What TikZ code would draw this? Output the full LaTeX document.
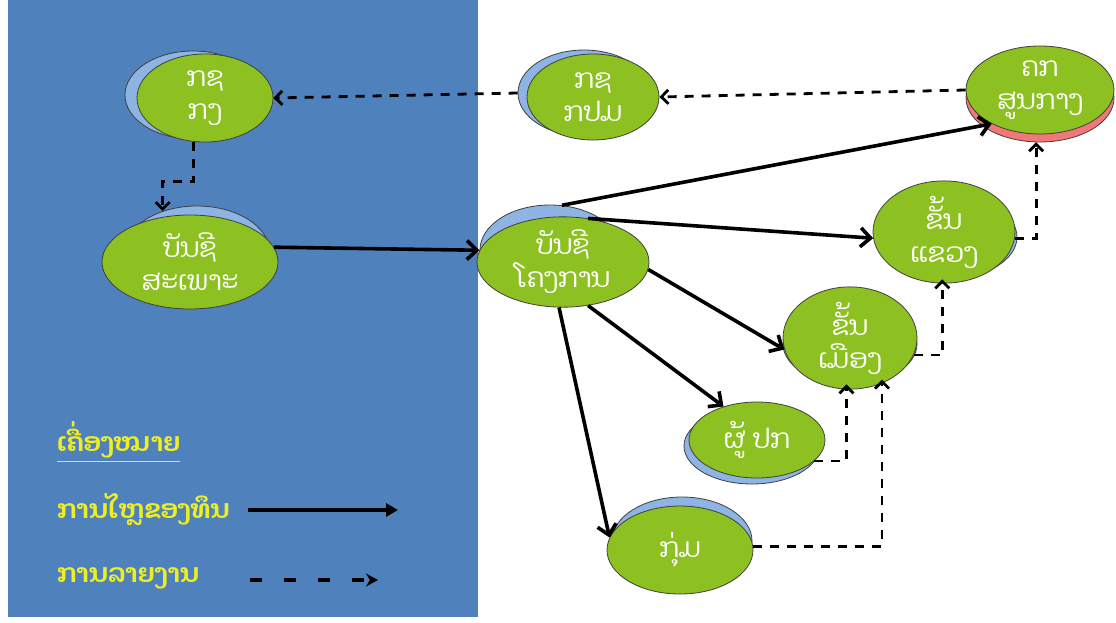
\documentclass[tikz,border=0pt]{standalone}
\usepackage{fontspec}
\newfontfamily\laofont[Script=Lao]{Dhyana}
\usetikzlibrary{shapes.geometric,arrows.meta,calc}
\definecolor{panel}{HTML}{4F81BD}
\definecolor{leaf}{HTML}{8DC021}
\definecolor{shade}{HTML}{8DB4E2}
\definecolor{rose}{HTML}{F07878}
\definecolor{legendyellow}{HTML}{EEEE22}
\tikzset{
  bubble/.style={ellipse,draw=black!75,line width=0.8pt,fill=leaf,text=white,
    font=\laofont\fontsize{27}{33}\selectfont,align=center,inner sep=0pt},
  shadowblue/.style={ellipse,draw=black!75,line width=0.8pt,fill=shade,inner sep=0pt},
  shadowred/.style={ellipse,draw=black!75,line width=0.8pt,fill=rose,inner sep=0pt},
  flow/.style={line width=3.6pt,-{Straight Barb[length=10pt,width=19pt,line width=3.6pt]}},
  report/.style={line width=2.8pt,dash pattern=on 9pt off 8pt,-{Straight Barb[length=7pt,width=14pt,line width=2.8pt]}},
  legendtext/.style={text=legendyellow,font=\laofont\fontsize{26}{30}\selectfont\bfseries,anchor=west,inner sep=0pt}
}
\begin{document}
\begin{tikzpicture}[x=1pt,y=-1pt]
\useasboundingbox (0,0) rectangle (1116,622);
\fill[white] (0,0) rectangle (1116,622);
\fill[panel] (8,0) rectangle (478,617);

% shadows
\node[shadowblue,minimum width=136pt,minimum height=88pt] (kgs) at (193,95) {};
\node[shadowblue,minimum width=132pt,minimum height=86pt] (kpms) at (584,93) {};
\node[shadowred,minimum width=148pt,minimum height=88pt] (kks) at (1040,98) {};
\node[shadowblue,minimum width=145pt,minimum height=92pt] (bsps) at (197,252) {};
\node[shadowblue,minimum width=140pt,minimum height=90pt] (bkgs) at (550,250) {};
\node[shadowblue,minimum width=142pt,minimum height=84pt] (kkhs) at (946,237) {};
\node[shadowblue,minimum width=134pt,minimum height=80pt] (kms) at (850,344) {};
\node[shadowblue,minimum width=136pt,minimum height=76pt] (pks) at (752,446) {};
\node[shadowblue,minimum width=140pt,minimum height=88pt] (kums) at (682,541) {};

% main bubbles
\node[bubble,minimum width=136pt,minimum height=88pt] (kg) at (205,98) {ກຊ\\ກງ};
\node[bubble,minimum width=132pt,minimum height=86pt] (kpm) at (593,97) {ກຊ\\ກປມ};
\node[bubble,minimum width=148pt,minimum height=88pt] (kk) at (1040,90) {ຄກ\\ສູນກາງ};
\node[bubble,minimum width=176pt,minimum height=94pt] (bsp) at (190,262) {ບັນຊີ\\ສະເພາະ};
\node[bubble,minimum width=172pt,minimum height=86pt] (bkg) at (563,262) {ບັນຊີ\\ໂຄງການ};
\node[bubble,minimum width=142pt,minimum height=84pt] (kkh) at (944,232) {ຂັ້ນ\\ແຂວງ};
\node[bubble,minimum width=134pt,minimum height=80pt] (km) at (850,338) {ຂັ້ນ\\ເມືອງ};
\node[bubble,minimum width=136pt,minimum height=76pt] (pk) at (757,440) {ຜູ້ ປກ};
\node[bubble,minimum width=146pt,minimum height=88pt] (kum) at (680,550) {ກຸ່ມ};

% reporting (dashed)
\draw[report] (kk.west) -- (kpm.east);
\draw[report] (kpms.west) -- (kg.east);
\draw[report] (kg.255) -- ++(0,40) -| (bsps.130);
\draw[report] (kkh.355) -| (kks.265);
\draw[report] (km.345) -| (kkhs.265);
\draw[report] (pk.340) -| (kms.265);
\draw[report] (kum.3) -| (kms.312);

% fund flow (solid)
\draw[flow] (bsp.10) -- (bkg.172);
\draw[flow] (bkgs.75) -- (kk.215);
\draw[flow] (bkg.60) -- (kkh.185);
\draw[flow] (bkg.355) -- (km.190);
\draw[flow] (bkg.300) -- (pk.135);
\draw[flow] (bkg.265) -- (kum.170);

% legend
\node[legendtext] (lg) at (57,440) {ເຄື່ອງໝາຍ};
\draw[legendyellow,line width=1.5pt] (lg.south west) ++(0,3) -- ($(lg.south east)+(0,3)$);
\node[legendtext] (lf) at (57,510) {ການໄຫຼຂອງທຶນ};
\coordinate (lfa) at (248,510);
\coordinate (lfb) at (398,510);
\draw[line width=3.2pt,-{Triangle[length=12pt,width=13pt]}] (lfa) -- (lfb);
\node[legendtext] (lr) at (57,578) {ການລາຍງານ};
\coordinate (lra) at (250,580);
\coordinate (lrb) at (378,580);
\draw[line width=3.2pt,dash pattern=on 12pt off 22pt,-{Stealth[length=12pt,width=13pt]}] (lra) -- (lrb);
\end{tikzpicture}
\end{document}
